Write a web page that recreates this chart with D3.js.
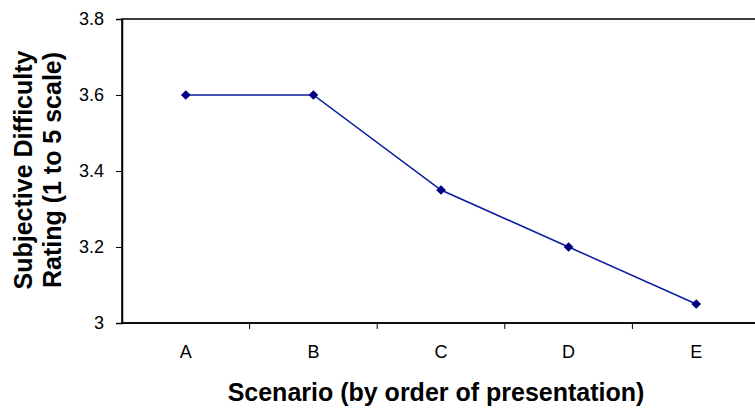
<!DOCTYPE html>
<html>
<head>
<meta charset="utf-8">
<script src="https://cdn.jsdelivr.net/npm/d3@7"></script>
<style>
  body { margin: 0; background: #fff; }
  svg { display: block; font-family: Arial, "Liberation Sans", sans-serif; }
</style>
</head>
<body>
<div id="chart"></div>
<script>
const scenarios = ['A', 'B', 'C', 'D', 'E'];
const ratings = [3.6, 3.6, 3.35, 3.2, 3.05];
const yTicks = [3, 3.2, 3.4, 3.6, 3.8];

const width = 755;
const height = 408;
const margin = { left: 122, right: -5, top: 19, bottom: 85 };

const svg = d3.select('#chart')
  .append('svg')
  .attr('width', width)
  .attr('height', height);

const x = d3.scaleBand()
  .domain(scenarios)
  .range([margin.left, width - margin.right]);

const y = d3.scaleLinear()
  .domain([3, 3.8])
  .range([height - margin.bottom, margin.top]);

// plot frame
svg.append('rect')
  .attr('x', margin.left)
  .attr('y', margin.top)
  .attr('width', width - margin.right - margin.left)
  .attr('height', height - margin.bottom - margin.top)
  .attr('fill', 'none')
  .attr('stroke', '#000')
  .attr('stroke-width', 1.5);

// y axis
const yAxis = svg.append('g')
  .attr('transform', `translate(${margin.left},0)`)
  .call(d3.axisLeft(y).tickValues(yTicks).tickSize(6).tickPadding(12).tickFormat(d3.format('')));
yAxis.select('.domain').attr('stroke-width', 1.5);
yAxis.selectAll('text')
  .attr('font-size', null)
  .style('font-size', '18px')
  .style('font-family', 'Arial, "Liberation Sans", sans-serif')
  .attr('fill', '#000');

// x axis: ticks at category boundaries
const xAxis = svg.append('g')
  .attr('transform', `translate(0,${height - margin.bottom})`);
xAxis.append('line')
  .attr('x1', margin.left).attr('x2', width)
  .attr('stroke', '#000').attr('stroke-width', 1.5);
xAxis.selectAll('.tick')
  .data(scenarios.slice(1))
  .enter().append('line')
  .attr('x1', (d) => x(d)).attr('x2', (d) => x(d))
  .attr('y1', 0).attr('y2', 6)
  .attr('stroke', '#000');
xAxis.selectAll('.lbl')
  .data(scenarios)
  .enter().append('text')
  .attr('x', (d) => x(d) + x.bandwidth() / 2)
  .attr('y', 35)
  .attr('text-anchor', 'middle')
  .style('font-size', '18px')
  .text((d) => d);

// line
const line = d3.line()
  .x((d, i) => x(scenarios[i]) + x.bandwidth() / 2)
  .y((d) => y(d));

svg.append('path')
  .datum(ratings)
  .attr('d', line)
  .attr('fill', 'none')
  .attr('stroke', '#0a1aa0')
  .attr('stroke-width', 1.5);

svg.selectAll('.pt')
  .data(ratings)
  .enter().append('path')
  .attr('d', d3.symbol(d3.symbolDiamond2, 60))
  .attr('transform', (d, i) => `translate(${x(scenarios[i]) + x.bandwidth() / 2},${y(d)})`)
  .attr('fill', '#000080');

// titles
svg.append('text')
  .attr('x', 436)
  .attr('y', 401)
  .attr('text-anchor', 'middle')
  .style('font-size', '25px')
  .style('font-weight', 'bold')
  .text('Scenario (by order of presentation)');

const yTitle = svg.append('text')
  .attr('transform', 'translate(32,170) rotate(-90)')
  .attr('text-anchor', 'middle')
  .style('font-size', '25px')
  .style('font-weight', 'bold');
yTitle.append('tspan').attr('x', 0).attr('y', 0).text('Subjective Difficulty');
yTitle.append('tspan').attr('x', 0).attr('y', 29).text('Rating (1 to 5 scale)');
</script>
</body>
</html>
